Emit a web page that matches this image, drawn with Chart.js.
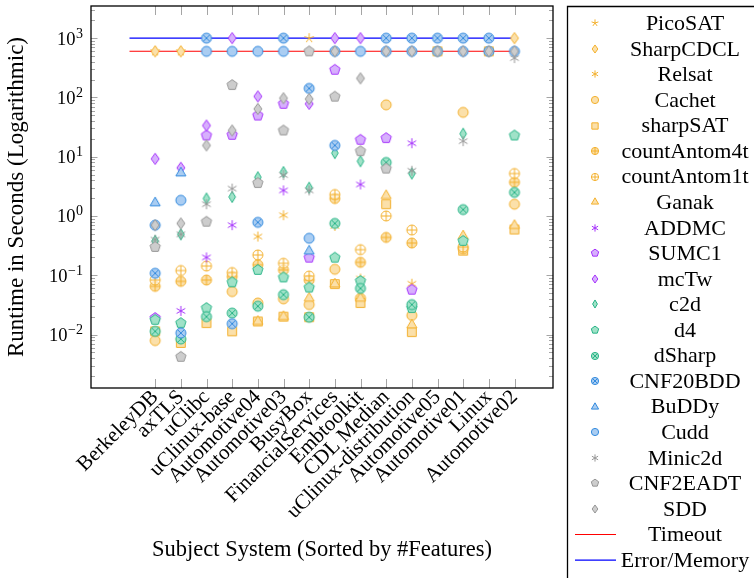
<!DOCTYPE html>
<html lang="en">
<head>
<meta charset="UTF-8">
<title>Runtime per Subject System</title>
<script src="https://cdn.jsdelivr.net/npm/chart.js"></script>
<style>
  html, body { margin: 0; padding: 0; background: #fff; }
</style>
</head>
<body>
<canvas id="runtimeChart" width="754" height="578"></canvas>
<script>
// subject systems, sorted by #features
const cats = ['BerkeleyDB', 'axTLS', 'uClibc', 'uClinux-base', 'Automotive04', 'Automotive03', 'BusyBox',
    'FinancialServices', 'Embtoolkit', 'CDL Median', 'uClinux-distribution', 'Automotive05', 'Automotive01',
    'Linux', 'Automotive02'];

// runtimes in seconds (600 = timeout, 1000 = error/memory), null = not visible
const PicoSAT      = [600, 600, null, null, null, null, 1000, null, null, null, null, null, null, null, null];
const SharpCDCL    = [600, 600, null, null, null, null, null, null, null, null, null, null, null, null, 1000];
const Relsat       = [null, null, null, null, 0.45, 1.03, null, 0.68, 0.088, null, 0.072, null, null, null, null];
const Cachet       = [0.0079, null, null, 0.053, 0.034, 0.040, 0.032, 0.126, 0.041, 75, 0.021, null, 56, null, 1.58];
const sharpSAT     = [0.0113, 0.0072, 0.0156, 0.0113, 0.0166, 0.020, 0.0196, 0.071, 0.034, 1.58, 0.011, 600, 0.26, 600, 0.59];
const countAntom4t = [0.065, 0.079, 0.083, 0.095, 0.15, 0.123, 0.083, 1.97, 0.165, 0.435, 0.35, null, 0.28, null, 3.7];
const countAntom1t = [0.083, 0.12, 0.143, 0.111, 0.22, 0.159, 0.097, 2.3, 0.27, 1.0, 0.58, null, 0.30, null, 5.2];
const Ganak        = [null, null, null, null, 0.0166, 0.020, 0.041, 0.071, 0.041, 2.2, 0.0145, null, 0.46, null, 0.69];
const ADDMC        = [null, 0.025, 0.20, 0.70, null, 2.7, null, null, 3.4, null, 16.9, null, null, null, null];
const SUMC1        = [0.019, null, 22.8, 23.4, 49.5, 78, 0.198, 293, 19.3, 20.6, 0.057, null, null, null, null];
const mcTw         = [9.2, 6.5, 33.6, 1000, 104, null, 78, 1000, 1000, null, null, null, null, null, null];
const c2d          = [0.38, 0.49, 1.97, 2.1, 4.5, 5.5, 3.0, 11.5, 8.4, null, 5.2, null, 24.4, null, null];
const d4           = [0.0177, 0.0156, 0.028, 0.076, 0.123, 0.092, 0.062, 0.198, 0.080, null, 0.028, null, 0.38, null, 22.8];
const dSharp       = [0.0113, 0.0084, 0.020, 0.023, 0.030, 0.047, 0.0196, 0.75, 0.060, 8.0, 0.032, null, 1.28, null, 2.5];
const CNF20BDD     = [0.108, 0.0106, 1000, 0.0152, 0.78, 1000, 142, 15.5, null, 1000, 1000, 1000, 1000, 1000, null];
const BuDDy        = [1.66, 5.3, null, null, null, null, 0.255, null, null, null, null, null, null, null, null];
const Cudd         = [0.7, 1.84, 600, 600, 600, 600, 0.42, 600, 600, 600, 600, 600, 600, 600, 600];
const Minic2d      = [0.40, 0.49, 1.58, 2.9, null, 4.9, 2.7, null, null, null, 5.8, null, 18.3, null, 461];
const CNF2EADT     = [0.30, 0.0042, 0.80, 162, 3.6, 27.7, 600, 103, 12.4, 6.3, null, null, null, null, null];
const SDD          = [0.7, 0.75, 15.5, 27.7, 64, 97, 94, 600, 210, 600, 600, 600, 600, 600, 600];

const timeoutLimit = 600;
const errorLimit = 1000;
const yTickExps = [-2, -1, 0, 1, 2, 3];

const ORANGE = ['rgb(243,176,45)', 'rgb(251,224,170)'];
const ORANGE_OPEN = ['rgb(243,176,45)', 'rgba(255,255,255,0.6)'];
const PURPLE = ['rgb(165,50,252)', 'rgb(215,176,253)'];
const GREEN = ['rgb(40,180,135)', 'rgb(160,226,200)'];
const BLUE = ['rgb(50,138,222)', 'rgb(170,205,242)'];
const GREY = ['rgb(150,150,150)', 'rgb(205,205,205)'];

const series = [
    ['PicoSAT', PicoSAT, 'star', ORANGE],
    ['SharpCDCL', SharpCDCL, 'diamond', ORANGE],
    ['Relsat', Relsat, 'asterisk', ORANGE],
    ['Cachet', Cachet, 'circle', ORANGE],
    ['sharpSAT', sharpSAT, 'square', ORANGE],
    ['countAntom4t', countAntom4t, 'oplus', ORANGE],
    ['countAntom1t', countAntom1t, 'oplus', ORANGE_OPEN],
    ['Ganak', Ganak, 'triangle', ORANGE],
    ['ADDMC', ADDMC, 'asterisk', PURPLE],
    ['SUMC1', SUMC1, 'pentagon', PURPLE],
    ['mcTw', mcTw, 'diamond', PURPLE],
    ['c2d', c2d, 'thindiamond', GREEN],
    ['d4', d4, 'pentagon', GREEN],
    ['dSharp', dSharp, 'otimes', GREEN],
    ['CNF20BDD', CNF20BDD, 'otimes', BLUE],
    ['BuDDy', BuDDy, 'triangle', BLUE],
    ['Cudd', Cudd, 'circle', BLUE],
    ['Minic2d', Minic2d, 'asterisk', GREY],
    ['CNF2EADT', CNF2EADT, 'pentagon', GREY],
    ['SDD', SDD, 'diamond', GREY]
];

// small canvases used as point styles (pgfplots-like marks)
function marker(shape, col, s) {
    const R = Math.ceil(7 * s) + 1;
    const c = document.createElement('canvas');
    c.width = c.height = 2 * R;
    const g = c.getContext('2d');
    g.translate(R, R);
    g.lineWidth = 1;
    g.strokeStyle = col[0];
    g.fillStyle = col[1];
    const poly = (n, r) => {
        g.beginPath();
        for (let k = 0; k < n; k++) {
            const a = -Math.PI / 2 + k * 2 * Math.PI / n;
            g.lineTo(r * Math.cos(a), r * Math.sin(a));
        }
        g.closePath(); g.fill(); g.stroke();
    };
    const rays = (angs, r) => {
        g.beginPath();
        angs.forEach(a => { g.moveTo(0, 0); g.lineTo(r * Math.cos(a), r * Math.sin(a)); });
        g.stroke();
    };
    const circ = r => { g.beginPath(); g.arc(0, 0, r, 0, 2 * Math.PI); g.fill(); g.stroke(); };
    const dia = (w, h) => {
        g.beginPath(); g.moveTo(0, -h); g.lineTo(w, 0); g.lineTo(0, h); g.lineTo(-w, 0);
        g.closePath(); g.fill(); g.stroke();
    };
    const r = 5 * s;
    switch (shape) {
        case 'circle': circ(r); break;
        case 'oplus':
            circ(r);
            g.beginPath(); g.moveTo(-r, 0); g.lineTo(r, 0); g.moveTo(0, -r); g.lineTo(0, r); g.stroke();
            break;
        case 'otimes': {
            circ(r);
            const d = r * 0.707;
            g.beginPath(); g.moveTo(-d, -d); g.lineTo(d, d); g.moveTo(-d, d); g.lineTo(d, -d); g.stroke();
            break;
        }
        case 'square':
            g.beginPath(); g.rect(-4.4 * s, -4.4 * s, 8.8 * s, 8.8 * s); g.fill(); g.stroke();
            break;
        case 'triangle': poly(3, 5.8 * s); break;
        case 'pentagon': poly(5, 5.4 * s); break;
        case 'diamond': dia(4 * s, 5.6 * s); break;
        case 'thindiamond': dia(3.3 * s, 5.6 * s); break;
        case 'asterisk': rays([-90, -30, 30, 90, 150, 210].map(a => a * Math.PI / 180), r); break;
        case 'star': rays([0, 1, 2, 3, 4].map(k => (-90 + 72 * k) * Math.PI / 180), r); break;
    }
    return c;
}

const plotMarks = series.map(sr => marker(sr[2], sr[3], 1));
const legendMarks = series.map(sr => marker(sr[2], sr[3], 0.72));

const limitLines = [
    { label: 'Timeout', value: timeoutLimit, color: 'rgb(255,0,0)' },
    { label: 'Error/Memory', value: errorLimit, color: 'rgb(0,0,255)' }
];

const datasets = [];
series.forEach((sr, i) => {
    datasets.push({
        label: sr[0],
        data: sr[1].map((v, k) => v === null ? null : { x: k, y: v }).filter(p => p),
        pointStyle: plotMarks[i],
        pointRadius: 5,
        order: 50 - i
    });
});
limitLines.forEach(l => {
    datasets.push({
        type: 'line',
        label: l.label,
        data: [{ x: -1, y: l.value }, { x: cats.length - 1, y: l.value }],
        borderColor: l.color,
        borderWidth: 1.1,
        pointRadius: 0,
        order: 100
    });
});

const SERIF = '"Liberation Serif", serif';

// y tick labels with raised exponents, inward ticks, frame and the boxed legend
const decorPlugin = {
    id: 'decor',
    afterDraw(chart) {
        const { ctx, chartArea: a, scales: { x, y } } = chart;
        ctx.save();

        ctx.fillStyle = '#000';
        ctx.textBaseline = 'alphabetic';
        yTickExps.forEach(e => {
            const py = y.getPixelForValue(Math.pow(10, e));
            const expTxt = e < 0 ? '\u2212' + (-e) : String(e);
            const right = a.left - 8;
            ctx.font = '14px ' + SERIF;
            const we = ctx.measureText(expTxt).width;
            ctx.textAlign = 'left';
            ctx.fillText(expTxt, right - we, py - 0.5);
            ctx.font = '18.5px ' + SERIF;
            ctx.textAlign = 'right';
            ctx.fillText('10', right - we - 0.5, py + 6.5);
        });

        ctx.strokeStyle = 'rgb(165,165,165)';
        ctx.lineWidth = 1;
        ctx.beginPath();
        cats.forEach((_, i) => {
            const px = Math.round(x.getPixelForValue(i)) + 0.5;
            ctx.moveTo(px, a.top); ctx.lineTo(px, a.top + 9);
            ctx.moveTo(px, a.bottom); ctx.lineTo(px, a.bottom - 9);
        });
        for (let e = -3; e <= 3; e++) {
            for (let m = 1; m <= 9; m++) {
                const v = m * Math.pow(10, e);
                if (v < y.min || v > y.max) continue;
                const py = Math.round(y.getPixelForValue(v)) + 0.5;
                const len = m === 1 ? 6.5 : 4;
                ctx.moveTo(a.left, py); ctx.lineTo(a.left + len, py);
                ctx.moveTo(a.right, py); ctx.lineTo(a.right - len, py);
            }
        }
        ctx.stroke();

        ctx.strokeStyle = '#000';
        ctx.lineWidth = 1.3;
        ctx.strokeRect(a.left, a.top, a.right - a.left, a.bottom - a.top);

        // legend box (runs off the canvas at right and bottom)
        const bx = 567.5, by = a.top + 0.5;
        ctx.beginPath();
        ctx.moveTo(bx, chart.height + 2); ctx.lineTo(bx, by); ctx.lineTo(chart.width + 2, by);
        ctx.stroke();

        ctx.font = '22px ' + SERIF;
        ctx.textAlign = 'center';
        ctx.textBaseline = 'middle';
        const rowH = 25.56, y0 = 23.3, mx = 595, tx = 685;
        series.forEach((sr, i) => {
            const yy = y0 + i * rowH;
            const m = legendMarks[i];
            ctx.drawImage(m, Math.round(mx - m.width / 2), Math.round(yy - m.height / 2));
            ctx.fillText(sr[0], tx, yy + 1);
        });
        limitLines.forEach((l, j) => {
            const yy = y0 + (series.length + j) * rowH;
            ctx.strokeStyle = l.color;
            ctx.lineWidth = 1.2;
            ctx.beginPath(); ctx.moveTo(575, yy); ctx.lineTo(616, yy); ctx.stroke();
            ctx.fillText(l.label, tx, yy + 1);
        });
        ctx.restore();
    }
};

Chart.defaults.font.family = SERIF;
Chart.defaults.color = '#000';

new Chart(document.getElementById('runtimeChart').getContext('2d'), {
    type: 'scatter',
    data: { datasets: datasets },
    options: {
        responsive: false,
        animation: false,
        layout: { padding: { left: 0, top: 5, right: 201, bottom: 0 } },
        plugins: {
            legend: { display: false },
            tooltip: { enabled: false }
        },
        scales: {
            x: {
                type: 'linear',
                min: -2.5,
                max: cats.length + 0.5,
                afterBuildTicks: s => { s.ticks = cats.map((_, i) => ({ value: i })); },
                afterFit: s => { s.height = 190; s.paddingLeft = 0; s.paddingRight = 0; },
                grid: { display: false, drawTicks: false },
                border: { display: false },
                ticks: {
                    autoSkip: false,
                    minRotation: 45,
                    maxRotation: 45,
                    padding: -3,
                    font: { size: 21 },
                    callback: v => cats[v]
                },
                title: {
                    display: true,
                    text: 'Subject System (Sorted by #Features)',
                    font: { size: 22.5 },
                    padding: { top: 0, bottom: 14 }
                }
            },
            y: {
                type: 'logarithmic',
                min: 0.001252,
                max: 3490,
                afterBuildTicks: s => { s.ticks = yTickExps.map(e => ({ value: Math.pow(10, e) })); },
                afterFit: s => { s.width = 91; s.paddingTop = 0; s.paddingBottom = 0; },
                grid: { display: false, drawTicks: false },
                border: { display: false },
                ticks: { display: false },
                title: {
                    display: true,
                    text: 'Runtime in Seconds (Logarithmic)',
                    font: { size: 23 },
                    padding: { top: 3, bottom: 0 }
                }
            }
        }
    },
    plugins: [decorPlugin]
});
</script>
</body>
</html>
